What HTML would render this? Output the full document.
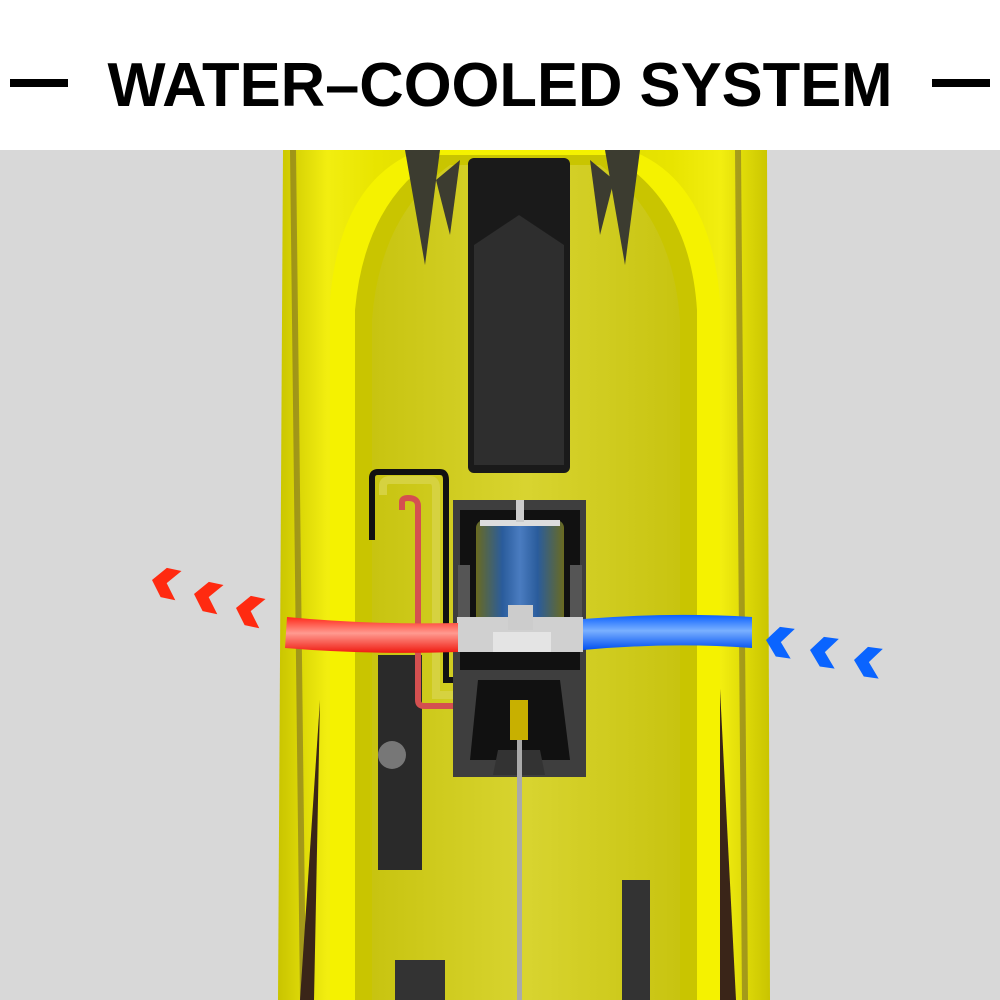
<!DOCTYPE html>
<html><head><style>
html,body{margin:0;padding:0;width:1000px;height:1000px;overflow:hidden;background:#fff}
</style></head><body>
<svg width="1000" height="1000" viewBox="0 0 1000 1000" xmlns="http://www.w3.org/2000/svg">
<defs>
<linearGradient id="hull" x1="0" x2="1">
<stop offset="0" stop-color="#c9c400"/><stop offset="0.1" stop-color="#f2ee10"/><stop offset="0.2" stop-color="#e8e400"/><stop offset="0.5" stop-color="#d9d500"/><stop offset="0.8" stop-color="#e8e400"/><stop offset="0.9" stop-color="#f2ee10"/><stop offset="1" stop-color="#c9c400"/>
</linearGradient>
<linearGradient id="inner" x1="0" x2="1">
<stop offset="0" stop-color="#c8c410"/><stop offset="0.5" stop-color="#d8d430"/><stop offset="1" stop-color="#c8c410"/>
</linearGradient>
<linearGradient id="motor" x1="0" x2="1">
<stop offset="0" stop-color="#6a6a20"/><stop offset="0.3" stop-color="#2a5c9c"/><stop offset="0.5" stop-color="#4a7cc0"/><stop offset="0.7" stop-color="#2a5c9c"/><stop offset="1" stop-color="#6a6a20"/>
</linearGradient>
<linearGradient id="red" x1="0" y1="0" x2="0" y2="1">
<stop offset="0" stop-color="#ff2a1a"/><stop offset="0.45" stop-color="#ff9a90"/><stop offset="1" stop-color="#f01a10"/>
</linearGradient>
<linearGradient id="blue" x1="0" y1="0" x2="0" y2="1">
<stop offset="0" stop-color="#0a60ff"/><stop offset="0.45" stop-color="#7ab0ff"/><stop offset="1" stop-color="#0050f0"/>
</linearGradient>
<path id="chev" d="M0 0 L12 -15 L27 -15 L15 0 L27 15 L12 15 Z"/>
</defs>
<rect x="0" y="0" width="1000" height="150" fill="#fff"/>
<rect x="0" y="150" width="1000" height="850" fill="#d8d8d8"/>
<rect x="10" y="79" width="58" height="8" fill="#000"/>
<rect x="932" y="79" width="58" height="8" fill="#000"/>
<text x="500" y="106" text-anchor="middle" font-family="Liberation Sans, sans-serif" font-weight="bold" font-size="62" fill="#000" textLength="785" lengthAdjust="spacingAndGlyphs">WATER–COOLED SYSTEM</text>
<path d="M283 150 L767 150 L770 1000 L278 1000 Z" fill="url(#hull)"/>
<path d="M290 150 L300 1000 L306 1000 L296 150Z" fill="#6a5a2a" opacity="0.5"/>
<path d="M735 150 L742 1000 L748 1000 L741 150Z" fill="#6a5a2a" opacity="0.5"/>
<path d="M320 700 L300 1000 L314 1000 Z" fill="#3a2518"/>
<path d="M718 650 L720 1000 L736 1000 Z" fill="#3a2518"/>
<path d="M330 1000 L330 300 Q340 180 420 150 L630 150 Q710 180 720 300 L720 1000 Z" fill="#f5f200"/>
<path d="M355 1000 L355 310 Q365 200 440 155 L610 155 Q690 200 697 310 L697 1000 Z" fill="#c9c500"/>
<path d="M372 1000 L372 320 Q380 215 450 165 L600 165 Q672 215 680 320 L680 1000 Z" fill="url(#inner)"/>
<path d="M405 150 L440 150 L425 265 Z" fill="#3c3c30"/>
<path d="M605 150 L640 150 L625 265 Z" fill="#3c3c30"/>
<path d="M436 180 L460 160 L450 235Z" fill="#3c3c30"/>
<path d="M590 160 L614 180 L600 235Z" fill="#3c3c30"/>
<rect x="468" y="158" width="102" height="315" rx="6" fill="#1a1a1a"/>
<path d="M474 245 L519 215 L564 245 L564 465 L474 465 Z" fill="#2e2e2e"/>
<rect x="378" y="655" width="44" height="215" fill="#2a2a2a"/>
<circle cx="392" cy="755" r="14" fill="#777"/>
<path d="M372 540 L372 478 Q372 472 378 472 L440 472 Q446 472 446 480 L446 680 L520 680" fill="none" stroke="#111" stroke-width="6"/>
<path d="M383 495 L383 486 Q383 480 390 480 L430 480 Q436 480 436 488 L436 695 L515 695" fill="none" stroke="#d6d240" stroke-width="8"/>
<path d="M402 510 L402 502 Q402 498 408 498 Q418 498 418 506 L418 700 Q418 706 424 706 L505 706 L520 690" fill="none" stroke="#d45050" stroke-width="6"/>
<rect x="453" y="500" width="133" height="277" fill="#3e3e3e"/>
<rect x="460" y="510" width="120" height="160" fill="#111"/>
<rect x="458" y="565" width="12" height="70" fill="#555"/>
<rect x="570" y="565" width="12" height="70" fill="#555"/>
<rect x="476" y="520" width="88" height="110" rx="8" fill="url(#motor)"/>
<rect x="480" y="520" width="80" height="6" fill="#ddd"/>
<rect x="516" y="500" width="8" height="22" fill="#ccc"/>
<path d="M478 680 L560 680 L570 760 L470 760 Z" fill="#111"/>
<rect x="510" y="700" width="18" height="40" fill="#c8b000"/>
<path d="M498 750 L540 750 L545 775 L493 775 Z" fill="#333"/>
<rect x="517" y="740" width="5" height="260" fill="#aaa"/>
<rect x="457" y="617" width="126" height="35" fill="#d0d0d0"/>
<rect x="493" y="632" width="58" height="20" fill="#e4e4e4"/>
<rect x="508" y="605" width="25" height="25" fill="#ccc"/>
<path d="M287 617 Q370 625 458 623 L458 652 Q370 655 285 648 Z" fill="url(#red)"/>
<path d="M583 619 Q670 612 752 617 L752 648 Q670 642 583 650 Z" fill="url(#blue)"/>
<g fill="#ff2a10">
<use href="#chev" transform="translate(152 580) rotate(12)"/>
<use href="#chev" transform="translate(194 594) rotate(12)"/>
<use href="#chev" transform="translate(236 608) rotate(12)"/>
</g>
<g fill="#0a64ff">
<use href="#chev" transform="translate(766 640) rotate(8)"/>
<use href="#chev" transform="translate(810 650) rotate(8)"/>
<use href="#chev" transform="translate(854 660) rotate(8)"/>
</g>
<rect x="622" y="880" width="28" height="120" fill="#333"/>
<rect x="395" y="960" width="50" height="40" fill="#333"/>
</svg>
</body></html>
